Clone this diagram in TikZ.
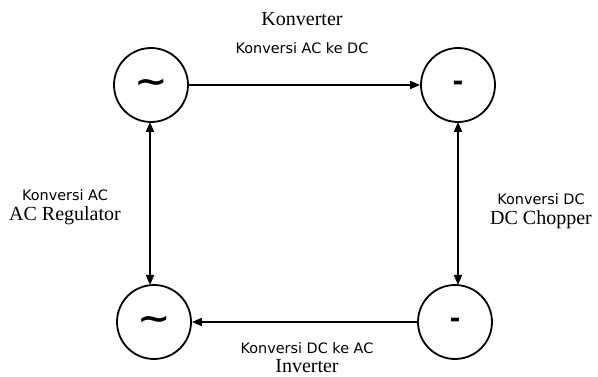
\documentclass[tikz,border=0pt]{standalone}
\usepackage{fontspec}
\setmainfont{Liberation Serif}
\newfontfamily\lblfont{DejaVu Sans}
\usetikzlibrary{arrows.meta}
\begin{document}
\begin{tikzpicture}[x=1pt,y=-1pt,
  conv/.style={circle,draw,line width=1.8pt,minimum size=74pt,inner sep=0pt},
  symb/.style={font=\lblfont\bfseries\fontsize{26}{26}\selectfont},
  tild/.style={font=\lblfont\bfseries\fontsize{40}{40}\selectfont,yscale=0.8},
  lbl/.style={font=\lblfont\fontsize{14.4}{16}\selectfont,inner sep=0pt},
  ttl/.style={font=\fontsize{20}{22}\selectfont,inner sep=0pt},
  link/.style={line width=1.5pt,-{Triangle[length=10pt,width=8pt]}},
  dlink/.style={line width=1.5pt,{Triangle[length=10pt,width=8pt]}-{Triangle[length=10pt,width=8pt]}}]
\useasboundingbox (0,0) rectangle (598,377);
\node[conv] (tl) at (151,85) {};
\node[conv] (tr) at (458,85) {};
\node[conv] (bl) at (154,322) {};
\node[conv] (br) at (455,322) {};
\node[tild] (tls) at (151,86) {\char`\~};
\node[tild] (bls) at (154,323) {\char`\~};
\node[symb] (trs) at (458,86) {-};
\node[symb] (brs) at (455,323) {-};
\draw[link] (tl.east) -- (tr.west);
\draw[link] (br.west) -- (bl.east);
\coordinate (la) at (150,122);
\coordinate (lb) at (150,285);
\coordinate (ra) at (458,122);
\coordinate (rb) at (458,285);
\draw[dlink] (la) -- (lb);
\draw[dlink] (ra) -- (rb);
\node[ttl] (t1) at (302,19) {Konverter};
\node[lbl] (l1) at (302,48) {Konversi AC ke DC};
\node[lbl] (l2) at (65,195) {Konversi AC};
\node[ttl] (t2) at (65,216) {AC Regulator};
\node[lbl] (l3) at (541,199) {Konversi DC};
\node[ttl] (t3) at (541,220) {DC Chopper};
\node[lbl] (l4) at (307,348) {Konversi DC ke AC};
\node[ttl] (t4) at (307,366) {Inverter};
\end{tikzpicture}
\end{document}
